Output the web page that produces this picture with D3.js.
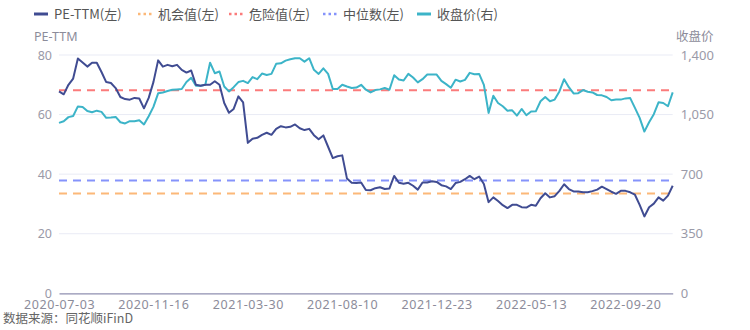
<!DOCTYPE html>
<html><head><meta charset="utf-8">
<script src="https://cdn.jsdelivr.net/npm/d3@7"></script>
<style>
html,body{margin:0;padding:0;background:#fff;}
svg{display:block;}
text{font-family:"Noto Sans CJK SC","Noto Sans",sans-serif;}
</style></head>
<body><svg id="chart" width="750" height="330"></svg>
<script>
const xTickLabels = ["2020-07-03","2020-11-16","2021-03-30","2021-08-10","2021-12-23","2022-05-13","2022-09-20"];
const tickEvery = 20;
const peTTM = [67.8,66.8,70,72.1,78.8,77.5,76.1,77.4,77.4,74.3,70.9,70.6,68.9,65.9,65.2,65,65.6,65.4,62.1,65.6,
70.9,78.2,76.1,76.7,76.2,76.7,75,74.1,74.8,70,69.7,70,70,71.2,70,63.9,60.6,61.9,66.1,64.1,
50.5,51.9,52.2,53.2,53.9,53.2,55.2,56.1,55.7,55.9,56.7,55.4,54.8,55.2,53.1,51.7,53,49.2,45.4,46,
46.3,38.5,37.1,37,37.2,34.7,34.6,35.3,35.6,35,35.2,39.4,37.1,36.8,37.1,36.1,34.8,37.2,37.2,37.6,
37.4,36.3,35.9,35,37,37.4,38.3,39.4,38.3,39.2,36.7,30.6,32.2,31,29.6,28.6,29.7,29.7,28.9,28.8,
29.7,29.4,31.9,33.6,32.2,32.6,34.4,36.6,35,34.2,34.2,33.9,33.9,34.3,34.8,35.8,35,34.1,33.4,34.4,
34.4,33.9,33.1,29.7,25.8,28.9,30.1,32.2,31.1,32.8,36.1];
const closePrice = [1001,1011,1035,1042,1098,1095,1071,1064,1073,1066,1031,1033,1036,1005,998,1011,1011,1017,992,1040,
1095,1175,1180,1188,1196,1198,1200,1241,1266,1219,1219,1225,1355,1293,1303,1215,1186,1211,1241,1248,
1235,1270,1258,1291,1283,1289,1348,1351,1367,1375,1381,1381,1361,1381,1313,1289,1322,1289,1200,1200,
1225,1215,1206,1209,1225,1196,1180,1194,1198,1206,1196,1281,1256,1250,1289,1268,1239,1258,1285,1285,
1285,1248,1229,1208,1255,1244,1254,1295,1287,1289,1225,1060,1161,1118,1099,1073,1075,1044,1083,1046,
1068,1069,1128,1153,1128,1138,1186,1258,1211,1174,1176,1194,1184,1180,1165,1163,1153,1134,1138,1138,
1145,1147,1089,1031,950,1005,1052,1122,1118,1099,1180];
const dangerValue = 68.2;
const opportunityValue = 33.5;
const medianValue = 37.85;
const leftTicks = [0,20,40,60,80];
const rightTicks = [0,350,700,1050,1400];
const legendItems = [
  {name:"PE-TTM(左)", color:"#404c92", type:"line"},
  {name:"机会值(左)", color:"#fcb878", type:"dash"},
  {name:"危险值(左)", color:"#fb7b7b", type:"dash"},
  {name:"中位数(左)", color:"#8593fb", type:"dash"},
  {name:"收盘价(右)", color:"#3cb4c8", type:"line"}
];

const svg = d3.select("#chart");
const L = 59, R = 672.7, T = 55, B = 293.3;
const x = d3.scaleLinear().domain([0, peTTM.length-1]).range([L, R]);
const yL = d3.scaleLinear().domain([0,80]).range([B, T]);
const yR = d3.scaleLinear().domain([0,1400]).range([B, T]);

// grid
svg.append("g").selectAll("line").data(leftTicks.slice(1)).join("line")
  .attr("x1", L).attr("x2", R).attr("y1", d=>yL(d)).attr("y2", d=>yL(d))
  .attr("stroke", "#e9ebf5").attr("stroke-width", 1);

// left axis
const gl = svg.append("g").attr("transform", `translate(${L},0)`)
  .call(d3.axisLeft(yL).tickValues(leftTicks).tickSize(0).tickPadding(7));
gl.select(".domain").remove();
gl.selectAll("text").attr("fill","#9a9aa8").style("font-size","12.5px").style("font-family","'Noto Sans',sans-serif");

// right axis
const gr = svg.append("g").attr("transform", `translate(${R},0)`)
  .call(d3.axisRight(yR).tickValues(rightTicks).tickFormat(d3.format(",")).tickSize(0).tickPadding(8));
gr.select(".domain").remove();
gr.selectAll("text").attr("fill","#9a9aa8").style("font-size","13px").style("font-family","'Noto Sans',sans-serif");

// bottom axis
const tickIdx = xTickLabels.map((d,i)=>i*tickEvery);
const gb = svg.append("g").attr("transform", `translate(0,${B})`)
  .call(d3.axisBottom(x).tickValues(tickIdx).tickFormat((d,i)=>xTickLabels[i]).tickSize(0).tickPadding(7));
gb.select(".domain").attr("stroke","#8f8fb0").attr("stroke-width",1.2);
gb.selectAll("text").attr("fill","#8c8c9a").style("font-size","12.5px").style("letter-spacing","0.6px").style("font-family","'Noto Sans',sans-serif");

// axis titles
svg.append("text").attr("x", 34).attr("y", 41).text("PE-TTM").attr("fill","#8c8c9a").style("font-size","12.5px").style("font-family","'Noto Sans',sans-serif");
svg.append("text").attr("x", 676).attr("y", 41).text("收盘价").attr("fill","#8c8c9a").style("font-size","12.5px");

// dashed reference lines
[[dangerValue,"#fb7b7b"],[medianValue,"#8593fb"],[opportunityValue,"#fcb878"]].forEach(([v,c])=>{
  svg.append("line").attr("x1",L).attr("x2",R).attr("y1",yL(v)).attr("y2",yL(v))
    .attr("stroke",c).attr("stroke-width",2).attr("stroke-dasharray","8,6");
});

// lines
svg.append("path").datum(closePrice)
  .attr("d", d3.line().x((d,i)=>x(i)).y(d=>yR(d)))
  .attr("fill","none").attr("stroke","#3cb4c8").attr("stroke-width",2).attr("stroke-linejoin","round");
svg.append("path").datum(peTTM)
  .attr("d", d3.line().x((d,i)=>x(i)).y(d=>yL(d)))
  .attr("fill","none").attr("stroke","#404c92").attr("stroke-width",2).attr("stroke-linejoin","round");

// legend
const legendX = [34, 138, 229, 323, 417];
const lg = svg.append("g");
legendItems.forEach((it,i)=>{
  const g = lg.append("g").attr("transform",`translate(${legendX[i]},14)`);
  if (it.type==="line") {
    g.append("line").attr("x1",0).attr("x2",14).attr("y1",0).attr("y2",0).attr("stroke",it.color).attr("stroke-width",3);
  } else {
    g.append("line").attr("x1",0).attr("x2",14).attr("y1",0).attr("y2",0).attr("stroke",it.color).attr("stroke-width",2.5).attr("stroke-dasharray","2.5,3");
  }
  g.append("text").attr("x",20).attr("y",4.5).text(it.name).attr("fill","#555").style("font-size","13px");
});

// source
svg.append("text").attr("x",3).attr("y",322.5).text("数据来源：同花顺iFinD").attr("fill","#666").style("font-size","12.5px");
</script></body></html>
